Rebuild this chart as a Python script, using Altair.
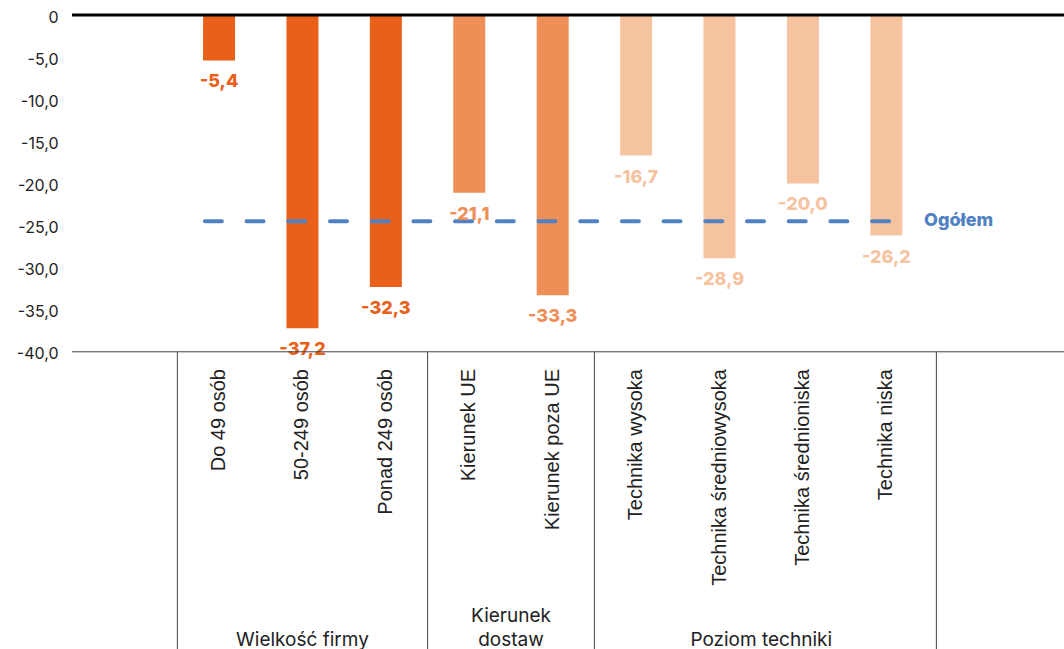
import altair as alt
import pandas as pd

categories = ["Do 49 osób", "50-249 osób", "Ponad 249 osób", "Kierunek UE",
              "Kierunek poza UE", "Technika wysoka", "Technika średniowysoka",
              "Technika średnioniska", "Technika niska"]
values = [-5.4, -37.2, -32.3, -21.1, -33.3, -16.7, -28.9, -20.0, -26.2]
groups = ["Wielkość firmy"] * 3 + ["Kierunek\ndostaw"] * 2 + ["Poziom techniki"] * 4
group_names = ["Wielkość firmy", "Kierunek\ndostaw", "Poziom techniki"]
group_colors = ["#E8601A", "#EF8F58", "#F6C3A1"]
overall = -24.5
overall_label = "Ogółem"
y_ticks = [0, -5, -10, -15, -20, -25, -30, -35, -40]

n = len(categories)
df = pd.DataFrame({
    "idx": list(range(n)),
    "cat": categories,
    "value": values,
    "group": groups,
    "label": [f"{v:.1f}".replace(".", ",") for v in values],
})

# group label lines
grp_rows = []
sep_rows = []
start = 0
for g in group_names:
    cnt = groups.count(g)
    lines = g.split("\n")
    for k, line in enumerate(reversed(lines)):
        grp_rows.append({"x": start + (cnt - 1) / 2, "text": line, "k": k, "group": g})
    sep_rows.append({"x": start - 0.5})
    start += cnt
sep_rows.append({"x": start - 0.5 + 0.1})
grp_df = pd.DataFrame(grp_rows)
sep_df = pd.DataFrame(sep_rows)

ov_df = pd.DataFrame({"y": [overall], "x": [-0.17], "x2": [n - 1 + 0.32], "text": [overall_label]})

xscale = alt.Scale(domain=[-1.763, 10.13], nice=False, zero=False, padding=0)
yscale = alt.Scale(domain=[-75.3, 0], nice=False, zero=False, padding=0)

base = alt.Chart(df)

color = alt.Color("group:N", scale=alt.Scale(domain=group_names, range=group_colors), legend=None)

bars = base.mark_bar(size=32).encode(
    x=alt.X("idx:Q", scale=xscale, axis=None),
    y=alt.Y("value:Q", scale=yscale,
            axis=alt.Axis(values=y_ticks, domain=False, ticks=False, grid=False, title=None,
                          labelPadding=14, labelFont="Inter", labelFontSize=16,
                          labelColor="#222222", labelOffset=2,
                          labelExpr="datum.value == 0 ? '0' : '-' + replace(format(abs(datum.value), '.1f'), '.', ',')")),
    y2=alt.datum(0),
    color=color,
)

val_labels = base.mark_text(font="Inter", fontWeight=800, fontSize=18, dy=22, baseline="middle").encode(
    x=alt.X("idx:Q", scale=xscale),
    y=alt.Y("value:Q", scale=yscale),
    text="label:N",
    color=color,
)

zero_line = alt.Chart(pd.DataFrame({"y": [0]})).mark_rule(color="#000000", strokeWidth=3).encode(
    y=alt.Y("y:Q", scale=yscale), x=alt.value(0), x2=alt.value(992))

bottom_line = alt.Chart(pd.DataFrame({"y": [y_ticks[-1]]})).mark_rule(color="#444444", strokeWidth=1).encode(
    y=alt.Y("y:Q", scale=yscale), x=alt.value(0), x2=alt.value(992))

seps = alt.Chart(sep_df).mark_rule(color="#444444", strokeWidth=1).encode(
    x=alt.X("x:Q", scale=xscale), y=alt.datum(y_ticks[-1]), y2=alt.value(634))

cat_labels = base.mark_text(font="Liberation Sans", fontSize=20, angle=270, align="right",
                            baseline="middle", color="#222222").encode(
    x=alt.X("idx:Q", scale=xscale), y=alt.value(354), text="cat:N")

grp_labels = alt.Chart(grp_df).transform_calculate(py="631 - 24 * datum.k").mark_text(
    font="Inter", fontSize=19, align="center", baseline="alphabetic", color="#222222").encode(
    x=alt.X("x:Q", scale=xscale), y=alt.Y("py:Q", scale=None), text="text:N")

ov_line = alt.Chart(ov_df).mark_rule(color="#4F81C3", strokeWidth=4, strokeDash=[17, 24.7],
                                     strokeCap="round").encode(
    x=alt.X("x:Q", scale=xscale), x2="x2:Q", y=alt.Y("y:Q", scale=yscale))

ov_text = alt.Chart(ov_df).mark_text(font="Inter", fontWeight=800, fontSize=18, align="left",
                                     baseline="middle", dx=11, color="#4F81C3").encode(
    x=alt.X("x2:Q", scale=xscale), y=alt.Y("y:Q", scale=yscale), text="text:N")

chart = alt.layer(bars, ov_line, val_labels, zero_line, bottom_line, seps, cat_labels, grp_labels, ov_text).properties(
    width=992, height=634,
    autosize=alt.AutoSizeParams(type="none"),
    padding={"left": 72, "top": 15, "right": 0, "bottom": 0},
    background="white",
).configure_view(stroke=None)

chart.save("out.html", embed_options={"renderer": "svg", "actions": False})
